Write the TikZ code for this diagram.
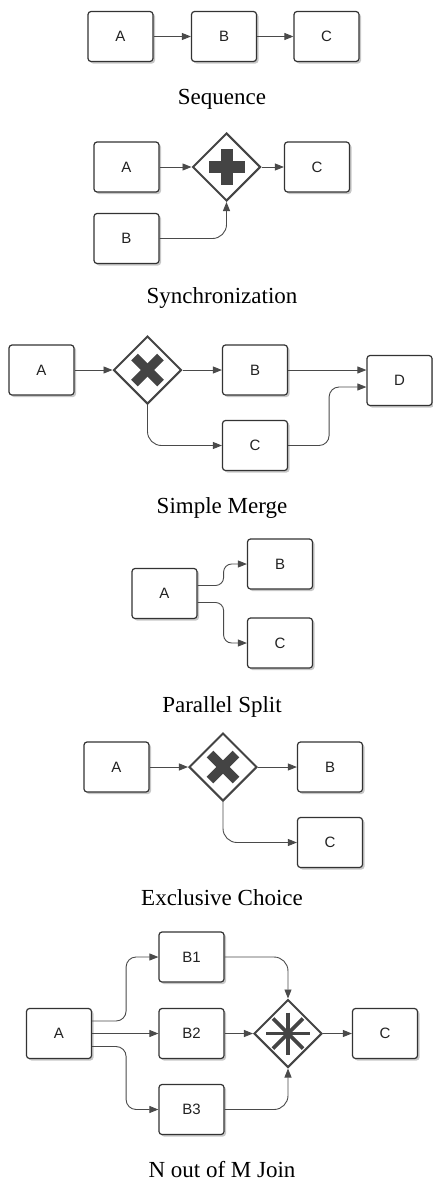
\documentclass[tikz,border=0pt]{standalone}
\usepackage{fontspec}
\setmainfont{Liberation Serif}
\newfontfamily\boxfont{Liberation Sans}
\usetikzlibrary{arrows.meta,shapes.geometric,shadows}

\definecolor{edgegray}{HTML}{333333}
\definecolor{flowgray}{HTML}{4A4A4A}
\definecolor{gategray}{HTML}{444444}
\definecolor{labelgray}{HTML}{222222}

\tikzset{
  task/.style={rectangle, rounded corners=3pt, draw=edgegray, line width=1.2pt,
    fill=white, minimum width=65pt, minimum height=50pt, inner sep=0pt,
    font=\boxfont\fontsize{15}{18}\selectfont, text=labelgray,
    drop shadow={shadow xshift=2pt, shadow yshift=-2pt, fill=black, opacity=0.22}},
  gate/.style={diamond, aspect=1, draw=gategray, line width=2pt, fill=white,
    minimum width=68pt, minimum height=68pt, inner sep=0pt},
  flow/.style={draw=flowgray, line width=0.9pt,
    -{Triangle[length=9pt,width=7pt]}, rounded corners=10pt},
  caption/.style={anchor=base, font=\fontsize{23}{27}\selectfont, text=black},
  icon/.style={fill=gategray, draw=none},
  xbar/.style={draw=gategray, line width=9.5pt},
  ray/.style={draw=gategray, line width=3.8pt}
}

\begin{document}
\begin{tikzpicture}[x=1pt, y=-1pt]
\useasboundingbox (0,0) rectangle (433,1183);

% ---------- Sequence ----------
\node[task] (sa) at (120.5,36.5) {A};
\node[task] (sb) at (224,36.5) {B};
\node[task] (sc) at (326.5,36.5) {C};
\draw[flow] (sa) -- (sb);
\draw[flow] (sb) -- (sc);
\node[caption] (cap1) at (222,104) {Sequence};

% ---------- Synchronization ----------
\node[task] (ya) at (126.5,167) {A};
\node[task] (yb) at (126.5,238.5) {B};
\node[gate] (yg) at (226.5,167) {};
\node[task] (yc) at (317,167) {C};
\fill[icon] ([shift={(-18,-6)}]yg.center) rectangle ([shift={(18,6)}]yg.center);
\fill[icon] ([shift={(-6,-18)}]yg.center) rectangle ([shift={(6,18)}]yg.center);
\draw[flow] (ya) -- (yg);
\draw[flow] (yg) -- (yc);
\draw[flow, rounded corners=14pt] (yb.east) -| (yg.south);
\node[caption] (cap2) at (222,303) {Synchronization};

% ---------- Simple Merge ----------
\node[task] (ma) at (41.5,370) {A};
\node[gate] (mg) at (147.5,370) {};
\node[task] (mb) at (255,370) {B};
\node[task] (mc) at (255,445.5) {C};
\node[task] (md) at (399.5,380.5) {D};
\draw[xbar] ([shift={(-13,-13)}]mg.center) -- ([shift={(13,13)}]mg.center);
\draw[xbar] ([shift={(-13,13)}]mg.center) -- ([shift={(13,-13)}]mg.center);
\draw[flow] (ma) -- (mg);
\draw[flow] (mg) -- (mb);
\draw[flow] (mb.east) -- (mb.east -| md.west);
\draw[flow, rounded corners=14pt] (mg.south) |- (mc.west);
\draw[flow, rounded corners=10pt] (mc.east) -- ++(41,0) |- ([yshift=-6.5pt]md.west);
\node[caption] (cap3) at (222,513) {Simple Merge};

% ---------- Parallel Split ----------
\node[task] (pa) at (164.5,593.5) {A};
\node[task] (pb) at (280,564) {B};
\node[task] (pc) at (280,643) {C};
\draw[flow, rounded corners=8pt] ([yshift=8pt]pa.east) -- ++(26,0) |- (pb.west);
\draw[flow, rounded corners=8pt] ([yshift=-9pt]pa.east) -- ++(26,0) |- (pc.west);
\node[caption] (cap4) at (222,712) {Parallel Split};

% ---------- Exclusive Choice ----------
\node[task] (ea) at (116.5,767) {A};
\node[gate] (eg) at (223,767) {};
\node[task] (eb) at (330,767) {B};
\node[task] (ec) at (330,842.5) {C};
\draw[xbar] ([shift={(-13,-13)}]eg.center) -- ([shift={(13,13)}]eg.center);
\draw[xbar] ([shift={(-13,13)}]eg.center) -- ([shift={(13,-13)}]eg.center);
\draw[flow] (ea) -- (eg);
\draw[flow] (eg) -- (eb);
\draw[flow, rounded corners=14pt] (eg.south) |- (ec.west);
\node[caption] (cap5) at (222,905) {Exclusive Choice};

% ---------- N out of M Join ----------
\node[task] (na) at (59,1033.5) {A};
\node[task] (nb1) at (191.5,957) {B1};
\node[task] (nb2) at (191.5,1033.5) {B2};
\node[task] (nb3) at (191.5,1109.5) {B3};
\node[gate] (ng) at (288,1033.5) {};
\node[task] (nc) at (385,1033.5) {C};
\draw[ray] ([shift={(-22,0)}]ng.center) -- ([shift={(22,0)}]ng.center);
\draw[ray] ([shift={(0,-21)}]ng.center) -- ([shift={(0,21)}]ng.center);
\draw[ray] ([shift={(-15,-15)}]ng.center) -- ([shift={(15,15)}]ng.center);
\draw[ray] ([shift={(-15,15)}]ng.center) -- ([shift={(15,-15)}]ng.center);
\draw[flow] ([yshift=12.5pt]na.east) -- ++(34,0) |- (nb1.west);
\draw[flow] (na) -- (nb2);
\draw[flow] ([yshift=-13pt]na.east) -- ++(34,0) |- (nb3.west);
\draw[flow, rounded corners=14pt] (nb1.east) -| (ng.north);
\draw[flow] (nb2) -- (ng);
\draw[flow, rounded corners=14pt] (nb3.east) -| (ng.south);
\draw[flow] (ng) -- (nc);
\node[caption] (cap6) at (222,1177) {N out of M Join};
\end{tikzpicture}
\end{document}
